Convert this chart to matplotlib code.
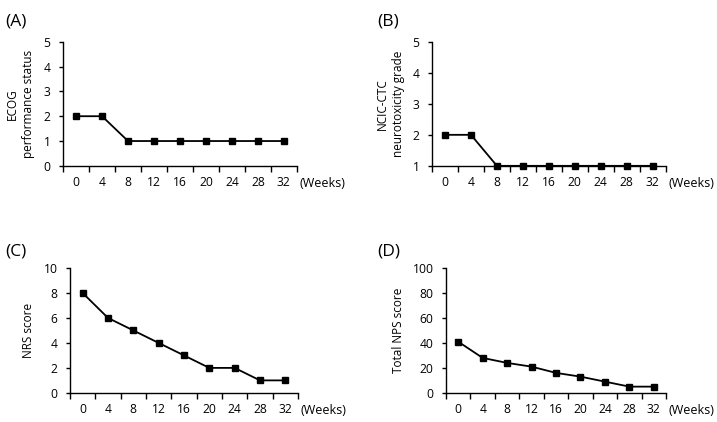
### Four panel follow-up chart (ECOG, NCIC-CTC, NRS, NPS) over weeks

import numpy as np
import matplotlib.pyplot as plt

plt.rcParams['font.family'] = ['Open Sans', 'DejaVu Sans']

weeks = [0, 4, 8, 12, 16, 20, 24, 28, 32]
ecog = [2, 2, 1, 1, 1, 1, 1, 1, 1]
ncic = [2, 2, 1, 1, 1, 1, 1, 1, 1]
nrs = [8, 6, 5, 4, 3, 2, 2, 1, 1]
nps = [41, 28, 24, 21, 16, 13, 9, 5, 5]


def panel(fig, rect, y, ylabel, ylim, yticks, labelx):
    ax = fig.add_axes(rect)
    ax.plot(weeks, y, color='black', lw=1.3, marker='s', ms=5, clip_on=False, zorder=3)
    ax.set_xlim(-2, 34)
    ax.set_ylim(*ylim)
    ax.set_yticks(yticks)
    ax.set_xticks(weeks)
    ax.set_xticks(list(np.array(weeks) - 2) + [34], minor=True)
    ax.tick_params(axis='x', which='major', length=0, pad=7, labelsize=8.7)
    ax.tick_params(axis='x', which='minor', length=4, width=1, direction='out')
    ax.tick_params(axis='y', length=3, width=1, direction='out', labelsize=8.7, pad=6)
    for s in ['top', 'right']:
        ax.spines[s].set_visible(False)
    for s in ['left', 'bottom']:
        ax.spines[s].set_linewidth(1)
    ax.set_ylabel(ylabel, fontsize=8.5, linespacing=1.3)
    ax.yaxis.set_label_coords(labelx, 0.5)
    ax.text(1.01, -0.14, '(Weeks)', transform=ax.transAxes, fontsize=9, va='center', ha='left')
    return ax


fig = plt.figure(figsize=(7.17, 4.22), dpi=100)

a = panel(fig, [0.088, 0.607, 0.326, 0.294], ecog, 'ECOG\nperformance status', (0, 5), range(0, 6), -0.12)
b = panel(fig, [0.6025, 0.607, 0.326, 0.294], ncic, 'NCIC-CTC\nneurotoxicity grade', (1, 5), range(1, 6), -0.115)
c = panel(fig, [0.0976, 0.069, 0.318, 0.296], nrs, 'NRS score', (0, 10), range(0, 11, 2), -0.154)
d = panel(fig, [0.622, 0.069, 0.307, 0.296], nps, 'Total NPS score', (0, 100), range(0, 101, 20), -0.186)

for x, y, letter in [(5, 22, '(A)'), (377, 22, '(B)'), (5, 252, '(C)'), (377, 252, '(D)')]:
    fig.text(x / 717, 1 - y / 422, letter, fontsize=12.5, va='center', ha='left')

plt.savefig('out.png', dpi=100)
plt.close()
